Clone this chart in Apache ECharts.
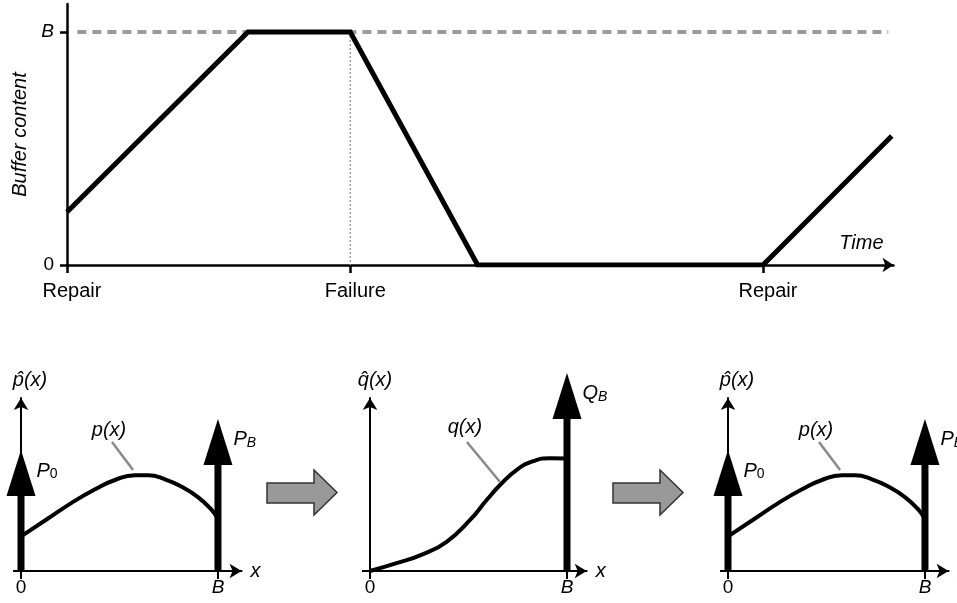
<!DOCTYPE html>
<html><head><meta charset="utf-8">
<script src="https://cdn.jsdelivr.net/npm/echarts@6/dist/echarts.min.js"></script>
<style>html,body{margin:0;padding:0;background:#fff}#c{width:957px;height:603px}</style>
</head><body><div id="c"></div>
<script>
// ---------- Top chart: buffer content over time ----------
const eventTimes = [0, 4.07, 10];
const eventLabels = ['Repair', 'Failure', 'Repair'];
const levelTicks = [0, 1];
const levelTickLabels = ['0', 'B'];
const bufferTime = [0, 2.6, 4.07, 5.9, 10, 11.85];
const bufferLevel = [0.227, 1, 1, 0, 0, 0.554];
const failureTime = 4.07;
const capacityLevel = 1;
const capacitySpan = [0.15, 11.8];

// ---------- Bottom charts: densities ----------
const xTicks = [0, 1];
const xTickLabels = ['0', 'B'];
const pX = [0, 0.139, 0.257, 0.376, 0.477, 0.579, 0.646, 0.731, 0.816, 0.9, 0.968, 1];
const pY = [0.2, 0.305, 0.394, 0.472, 0.526, 0.553, 0.553, 0.53, 0.487, 0.426, 0.353, 0.3];
const qX = [0, 0.135, 0.27, 0.389, 0.508, 0.592, 0.66, 0.745, 0.829, 0.914, 1];
const qY = [0, 0.045, 0.098, 0.169, 0.295, 0.41, 0.497, 0.585, 0.635, 0.652, 0.65];
const pMassX = [0, 1];
const pMassH = [0.699, 0.879];
const pMassLabels = [['P', '0'], ['P', 'B']];
const qMassX = [1];
const qMassH = [1.145];
const qMassLabels = [['Q', 'B']];

const FONT = 'Liberation Sans, Arial, Helvetica, sans-serif';
const BLACK = '#000';

function fmtFrom(vals, labels, italicSet) {
  return function (v) {
    let k = 0, best = Infinity;
    vals.forEach((t, i) => { const d = Math.abs(t - v); if (d < best) { best = d; k = i; } });
    const s = labels[k];
    return italicSet && italicSet.indexOf(s) >= 0 ? '{i|' + s + '}' : '{n|' + s + '}';
  };
}
const labelRich = (size) => ({
  i: { fontStyle: 'italic', fontSize: size, fontFamily: FONT, color: BLACK },
  n: { fontSize: size, fontFamily: FONT, color: BLACK }
});

// grids
const grids = [
  { left: 67, top: 4, width: 826.5, height: 261 },
  { left: 21, top: 398, width: 220.6, height: 173 },
  { left: 370, top: 398, width: 216.7, height: 173 },
  { left: 728, top: 398, width: 220.6, height: 173 }
].map(g => Object.assign({ containLabel: false, outerBoundsMode: 'none' }, g));

const xAxes = [], yAxes = [];
xAxes.push({
  gridIndex: 0, type: 'value', min: 0, max: 11.875,
  axisLine: { show: true, symbol: ['none', 'arrow'], symbolSize: [11, 11], lineStyle: { color: BLACK, width: 2.5 } },
  axisTick: { show: true, customValues: eventTimes, length: 8, lineStyle: { color: BLACK, width: 2.5 } },
  axisLabel: { show: true, customValues: eventTimes, margin: 16, padding: [0, 0, 0, 10], formatter: fmtFrom(eventTimes, eventLabels), rich: labelRich(20) },
  splitLine: { show: false },
  name: 'Time', nameLocation: 'end', nameGap: -10,
  nameTextStyle: { fontStyle: 'italic', fontSize: 20, fontFamily: FONT, color: BLACK, align: 'right', verticalAlign: 'bottom', padding: [0, 0, 12, 0] }
});
yAxes.push({
  gridIndex: 0, type: 'value', min: 0, max: 1.12,
  axisLine: { show: true, lineStyle: { color: BLACK, width: 2.5 } },
  axisTick: { show: true, customValues: levelTicks, length: 7, lineStyle: { color: BLACK, width: 2.5 } },
  axisLabel: { show: true, customValues: levelTicks, margin: 13, formatter: fmtFrom(levelTicks, levelTickLabels, ['B']), rich: labelRich(19) },
  splitLine: { show: false },
  name: 'Buffer content', nameLocation: 'middle', nameGap: 36, nameRotate: 90,
  nameTextStyle: { fontStyle: 'italic', fontSize: 20, fontFamily: FONT, color: BLACK }
});

function bottomAxes(gi, xMax, yName, namePad) {
  xAxes.push({
    gridIndex: gi, type: 'value', min: 0, max: xMax,
    axisLine: { show: true, symbol: ['none', 'arrow'], symbolSize: [11, 12], lineStyle: { color: BLACK, width: 2 } },
    axisTick: { show: true, customValues: xTicks, length: 8, lineStyle: { color: BLACK, width: 2 } },
    axisLabel: { show: true, customValues: xTicks, margin: 7, formatter: fmtFrom(xTicks, xTickLabels, ['B']), rich: labelRich(19) },
    splitLine: { show: false },
    name: 'x', nameLocation: 'end', nameGap: 9,
    nameTextStyle: { fontStyle: 'italic', fontSize: 20, fontFamily: FONT, color: BLACK }
  });
  yAxes.push({
    gridIndex: gi, type: 'value', min: 0, max: 1,
    axisLine: { show: true, onZero: true, symbol: ['none', 'arrow'], symbolSize: [11, 12], lineStyle: { color: BLACK, width: 2 } },
    axisTick: { show: true, customValues: [0], length: 8, lineStyle: { color: BLACK, width: 2 } },
    axisLabel: { show: false },
    splitLine: { show: false },
    name: yName, nameLocation: 'end', nameGap: 8,
    nameTextStyle: { fontStyle: 'italic', fontSize: 20, fontFamily: FONT, color: BLACK, padding: [0, 0, 0, namePad] }
  });
}
bottomAxes(1, 1.12, 'p\u0302(x)', 18);
bottomAxes(2, 1.10, 'q\u0302(x)', 10);
bottomAxes(3, 1.12, 'p\u0302(x)', 18);

const zip = (a, b) => a.map((v, i) => [v, b[i]]);

function curve(gi, xs, ys) {
  return {
    type: 'line', xAxisIndex: gi, yAxisIndex: gi, data: zip(xs, ys), smooth: 0.5,
    symbol: 'none', lineStyle: { color: BLACK, width: 4 }, z: 3, silent: true
  };
}

function massArrows(gi, xs, hs, labels) {
  return {
    type: 'custom', xAxisIndex: gi, yAxisIndex: gi, clip: false, z: 5, silent: true,
    data: xs.map((x, i) => [x, hs[i], i]),
    renderItem: function (params, api) {
      const x = api.value(0), h = api.value(1), i = api.value(2);
      const base = api.coord([x, 0]), tip = api.coord([x, h]);
      const HH = 46, HW = 14.5;
      const lab = labels[i];
      const subItalic = lab[1] !== '0';
      return {
        type: 'group', children: [
          { type: 'line', shape: { x1: base[0], y1: base[1], x2: base[0], y2: tip[1] + HH - 1 }, style: { stroke: BLACK, lineWidth: 7 } },
          { type: 'polygon', shape: { points: [[tip[0], tip[1]], [tip[0] - HW, tip[1] + HH], [tip[0] + HW, tip[1] + HH]] }, style: { fill: BLACK } },
          {
            type: 'text', x: tip[0] + HW + 1, y: tip[1] + HH / 2 - 2,
            style: {
              text: '{m|' + lab[0] + '}{s|' + lab[1] + '}', align: 'left', verticalAlign: 'middle',
              rich: {
                m: { fontSize: 20, fontStyle: 'italic', fontFamily: FONT, fill: BLACK, color: BLACK, lineHeight: 20, verticalAlign: 'top', padding: [0, 0, 2, 0] },
                s: { fontSize: 14, fontStyle: subItalic ? 'italic' : 'normal', fontFamily: FONT, fill: BLACK, color: BLACK, lineHeight: 14, verticalAlign: 'bottom' }
              }
            }
          }
        ]
      };
    }
  };
}

// annotation layout (label + leader line), in data units of each small chart
const annotations = [
  { gi: 1, text: 'p(x)', at: [0.447, 0.815], from: [0.462, 0.746], to: [0.569, 0.584] },
  { gi: 2, text: 'q(x)', at: [0.482, 0.827], from: [0.492, 0.746], to: [0.66, 0.514] },
  { gi: 3, text: 'p(x)', at: [0.447, 0.815], from: [0.462, 0.746], to: [0.569, 0.584] }
];
function annotationSeries(a) {
  return {
    type: 'custom', xAxisIndex: a.gi, yAxisIndex: a.gi, clip: false, z: 4, silent: true,
    data: [[a.at[0], a.at[1]]],
    renderItem: function (params, api) {
      const p = api.coord(a.at), f = api.coord(a.from), t = api.coord(a.to);
      return {
        type: 'group', children: [
          { type: 'line', shape: { x1: f[0], y1: f[1], x2: t[0], y2: t[1] }, style: { stroke: '#8a8a8a', lineWidth: 2.5 } },
          { type: 'text', x: p[0], y: p[1], style: { text: a.text, align: 'center', verticalAlign: 'middle', font: 'italic 20px ' + FONT, fill: BLACK } }
        ]
      };
    }
  };
}

const series = [
  {
    type: 'line', xAxisIndex: 0, yAxisIndex: 0, z: 1, silent: true, symbol: 'none',
    data: capacitySpan.map(t => [t, capacityLevel]),
    lineStyle: { color: '#9b9b9b', width: 4, type: [9, 6] }
  },
  {
    type: 'line', xAxisIndex: 0, yAxisIndex: 0, z: 1, silent: true, symbol: 'none',
    data: [[failureTime, capacityLevel], [failureTime, 0]],
    lineStyle: { color: '#999', width: 1.5, type: [2, 2] }
  },
  {
    type: 'line', xAxisIndex: 0, yAxisIndex: 0, data: zip(bufferTime, bufferLevel),
    symbol: 'none', lineStyle: { color: BLACK, width: 5, join: 'miter', cap: 'butt' }, z: 3, silent: true
  },
  curve(1, pX, pY), curve(2, qX, qY), curve(3, pX, pY),
  massArrows(1, pMassX, pMassH, pMassLabels),
  massArrows(2, qMassX, qMassH, qMassLabels),
  massArrows(3, pMassX, pMassH, pMassLabels)
].concat(annotations.map(annotationSeries));

// decorative block arrows between the small charts
function blockArrow(dx) {
  return {
    type: 'polygon', z: 10,
    shape: { points: [[267 + dx, 483], [314 + dx, 483], [314 + dx, 470], [337 + dx, 492.5], [314 + dx, 515], [314 + dx, 503], [267 + dx, 503]] },
    style: { fill: '#999', stroke: '#333', lineWidth: 1.5 }
  };
}

const chart = echarts.init(document.getElementById('c'), null, { renderer: 'canvas' });
chart.setOption({
  animation: false,
  backgroundColor: '#fff',
  textStyle: { fontFamily: FONT },
  grid: grids,
  xAxis: xAxes,
  yAxis: yAxes,
  series: series,
  graphic: [blockArrow(0), blockArrow(346)]
});
</script></body></html>
